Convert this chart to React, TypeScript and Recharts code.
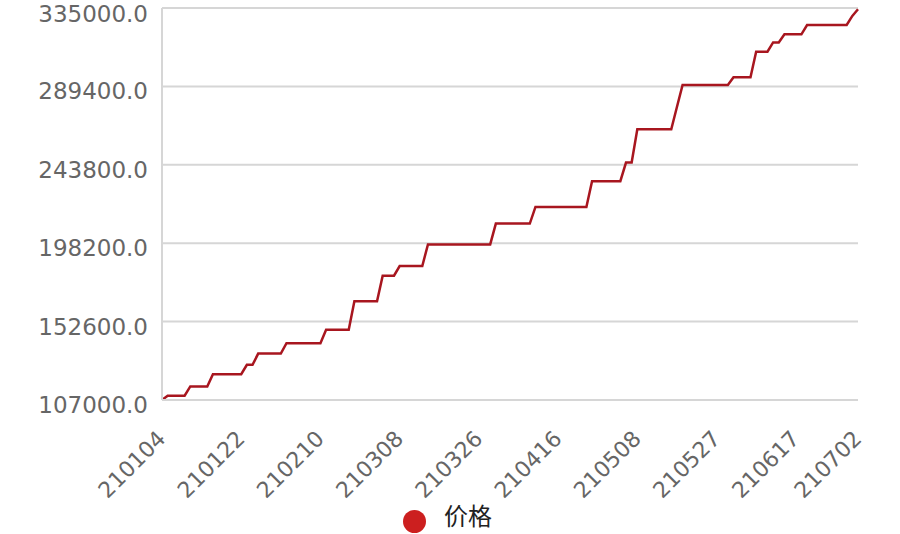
import { LineChart, Line, XAxis, YAxis, CartesianGrid } from 'recharts';

const LINE_RED = '#a8161f';
const DOT_RED = '#cc1f1f';
const GRID = '#d6d6d6';
const TEXT = '#666';

const dates = [
  '210104', '210105', '210106', '210107', '210108', '210111', '210112', '210113', '210114', '210115',
  '210118', '210119', '210120', '210121', '210122', '210125', '210126', '210127', '210128', '210129',
  '210201', '210202', '210203', '210204', '210205', '210207', '210208', '210209', '210210', '210218',
  '210219', '210220', '210222', '210223', '210224', '210225', '210226', '210301', '210302', '210303',
  '210304', '210305', '210308', '210309', '210310', '210311', '210312', '210315', '210316', '210317',
  '210318', '210319', '210322', '210323', '210324', '210325', '210326', '210329', '210330', '210331',
  '210401', '210402', '210406', '210407', '210408', '210409', '210412', '210413', '210414', '210415',
  '210416', '210419', '210420', '210421', '210422', '210423', '210425', '210426', '210427', '210428',
  '210429', '210430', '210506', '210507', '210508', '210510', '210511', '210512', '210513', '210514',
  '210517', '210518', '210519', '210520', '210521', '210524', '210525', '210526', '210527', '210528',
  '210531', '210601', '210602', '210603', '210604', '210607', '210608', '210609', '210610', '210611',
  '210615', '210616', '210617', '210618', '210621', '210622', '210623', '210624', '210625', '210628',
  '210629', '210630', '210701', '210702',
];

const prices = [
  107000, 109500, 109500, 109500, 109500, 114900, 114900, 114900, 114900, 122000,
  122000, 122000, 122000, 122000, 122000, 127500, 127500, 134000, 134000, 134000,
  134000, 134000, 140000, 140000, 140000, 140000, 140000, 140000, 140000, 147800,
  147800, 147800, 147800, 147800, 164400, 164400, 164400, 164400, 164400, 179300,
  179300, 179300, 184900, 184900, 184900, 184900, 184900, 197500, 197500, 197500,
  197500, 197500, 197500, 197500, 197500, 197500, 197500, 197500, 197500, 209600,
  209600, 209600, 209600, 209600, 209600, 209600, 219300, 219300, 219300, 219300,
  219300, 219300, 219300, 219300, 219300, 219300, 234300, 234300, 234300, 234300,
  234300, 234300, 245100, 245100, 264500, 264500, 264500, 264500, 264500, 264500,
  264500, 277400, 290200, 290200, 290200, 290200, 290200, 290200, 290200, 290200,
  290200, 294700, 294700, 294700, 294700, 309600, 309600, 309600, 315000, 315000,
  319700, 319700, 319700, 319700, 325100, 325100, 325100, 325100, 325100, 325100,
  325100, 325100, 330400, 334300,
];

const dateTicks = ['210104', '210122', '210210', '210308', '210326', '210416', '210508', '210527', '210617', '210702'];
const priceTicks = [107000, 152600, 198200, 243800, 289400, 335000];

const data = dates.map((d, i) => ({ date: d, price: prices[i] }));

function DateTick({ x, y, payload }: any) {
  const ax = x + 5;
  const ay = y + 32;
  return (
    <text
      x={ax} y={ay} transform={`rotate(-45, ${ax}, ${ay})`}
      textAnchor="end" fill={TEXT} fontSize={22} fontFamily="DejaVu Sans"
    >
      {payload.value}
    </text>
  );
}

function PriceTick({ x, y, payload }: any) {
  return (
    <text
      x={x - 6} y={y + 13} textAnchor="end"
      fill={TEXT} fontSize={23} fontFamily="DejaVu Sans"
    >
      {payload.value.toFixed(1)}
    </text>
  );
}

export default function App() {
  return (
    <div style={{ position: 'fixed', left: 0, top: 0, width: 900, height: 534, background: '#fff' }}>
      <LineChart width={900} height={534} data={data} margin={{ top: 8, right: 42, left: 0, bottom: 74 }}>
        <CartesianGrid vertical={false} stroke={GRID} strokeWidth={2} />
        <XAxis
          dataKey="date" ticks={dateTicks} interval={0} height={60}
          tickLine={false} axisLine={{ stroke: GRID, strokeWidth: 2 }} tick={<DateTick />}
        />
        <YAxis
          type="number" domain={[107000, 335000]} ticks={priceTicks} width={162}
          tickLine={false} axisLine={{ stroke: GRID, strokeWidth: 2 }} tick={<PriceTick />}
        />
        <Line
          type="linear" dataKey="price" name="价格" stroke={LINE_RED} strokeWidth={2.5}
          dot={false} isAnimationActive={false}
        />
      </LineChart>
      <div style={{
        position: 'absolute', left: 403, top: 510, width: 23, height: 23,
        borderRadius: '50%', background: DOT_RED,
      }} />
      <div style={{
        position: 'absolute', left: 444, top: 503, fontSize: 24, lineHeight: '24px',
        color: '#222', fontFamily: '"Noto Sans CJK SC"',
      }}>
        价格
      </div>
    </div>
  );
}
